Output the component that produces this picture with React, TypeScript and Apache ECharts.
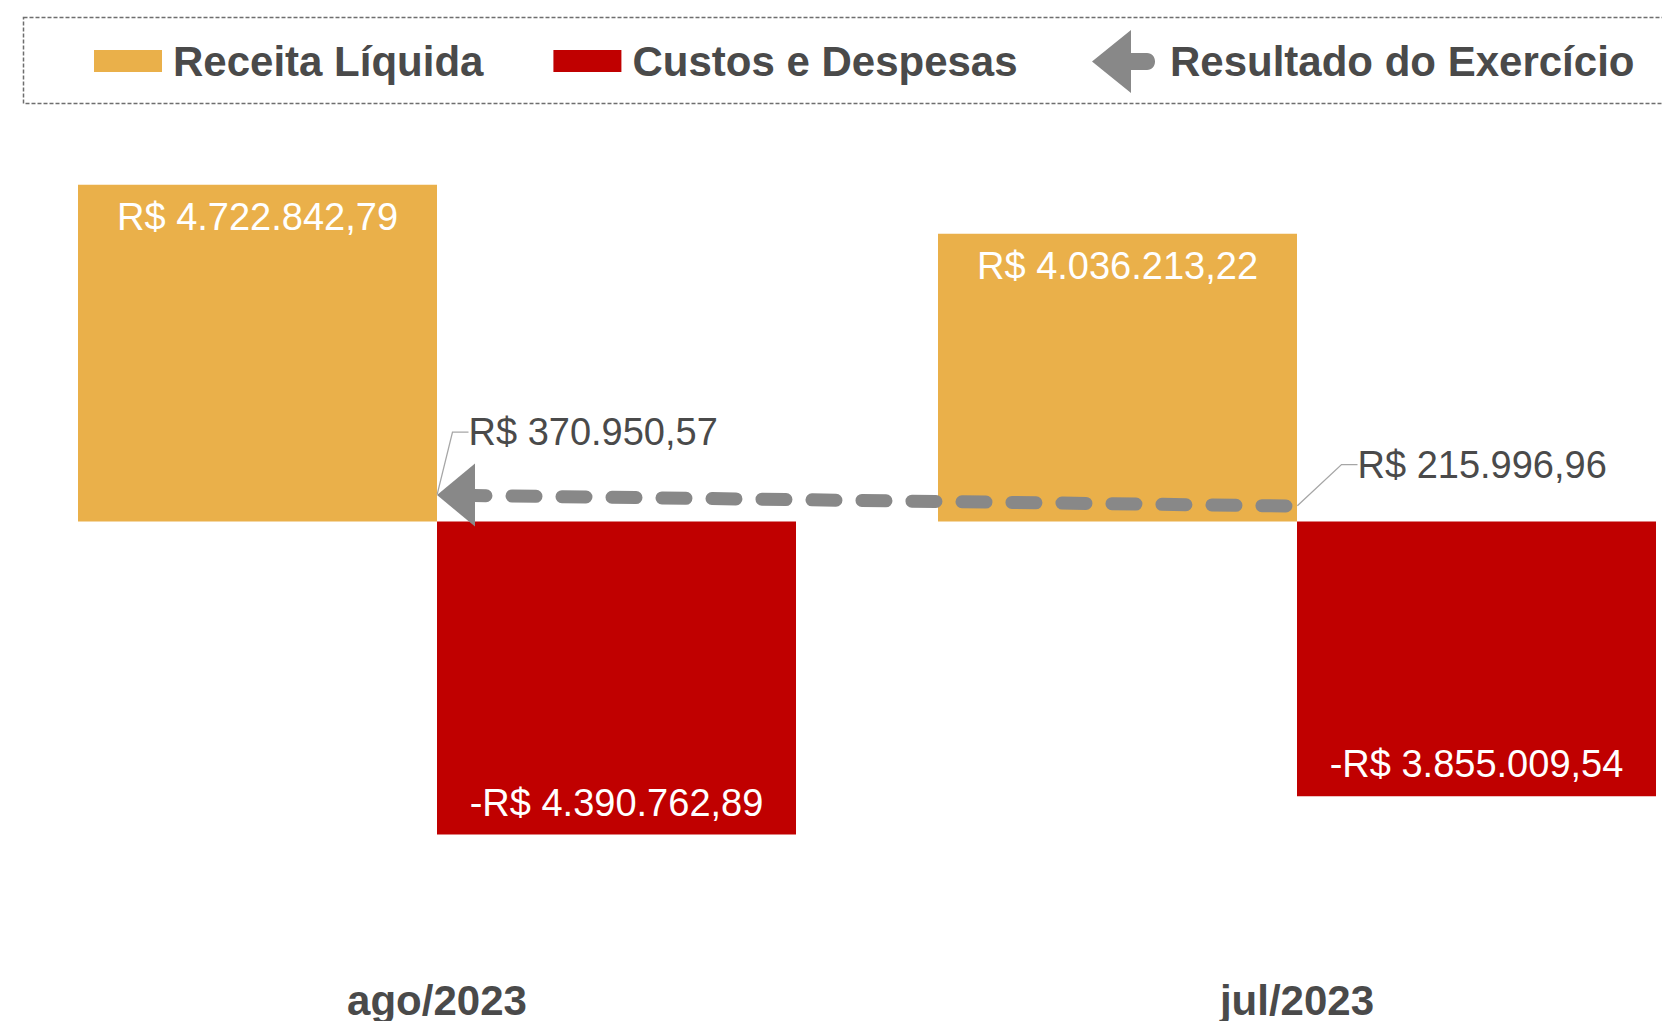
import React, { useEffect, useRef } from "react";
import * as echarts from "echarts";

const categories = ["ago/2023", "jul/2023"];
const receitaLiquida = [4722842.79, 4036213.22];
const custosDespesas = [-4390762.89, -3855009.54];
const resultadoExercicio = [370950.57, 215996.96];

const FONT = "'Liberation Sans', Arial, Helvetica, sans-serif";
const TEXT_COLOR = "#4a4a4a";
const ORANGE = "#EAB04A";
const RED = "#C00000";
const GRAY = "#888888";

const ARROW_SYMBOL = "path://M0,31.5 L38,0 L38,63 Z";
const ARROW_ICON =
  "path://M0,31.5 L39,0 L39,23 L55,23 C60,23 63,27 63,31.5 C63,36 60,40 55,40 L39,40 L39,63 Z";

function brl(v: number): string {
  const neg = v < 0;
  const [intPart, dec] = Math.abs(v).toFixed(2).split(".");
  const intF = intPart.replace(/\B(?=(\d{3})+(?!\d))/g, ".");
  return (neg ? "-" : "") + "R$ " + intF + "," + dec;
}

const labelOffsets = [
  { dx: 19, dy: -63 },
  { dx: 48, dy: -41.5 },
];

export default function App() {
  const ref = useRef<HTMLDivElement>(null);

  useEffect(() => {
    if (!ref.current) return;
    const chart = echarts.init(ref.current, undefined, { renderer: "svg" });
    const option: any = {
      animation: false,
      backgroundColor: "#ffffff",
      graphic: [
        {
          type: "rect",
          silent: true,
          z: -1,
          shape: { x: 23.5, y: 17.5, width: 1700, height: 86 },
          style: { fill: "none", stroke: "#6e6e6e", lineWidth: 1.5, lineDash: [4, 2] },
        },
      ],
      legend: [
        {
          data: ["Receita Líquida", "Custos e Despesas"],
          left: 89,
          top: 35,
          icon: "rect",
          itemWidth: 68,
          itemHeight: 22,
          itemGap: 70,
          selectedMode: false,
          textStyle: {
            fontFamily: FONT,
            fontSize: 42,
            fontWeight: "bold",
            color: TEXT_COLOR,
            padding: [0, 0, 0, 6],
          },
        },
        {
          data: [
            {
              name: "Resultado do Exercício",
              icon: ARROW_ICON,
              itemStyle: { color: GRAY, borderWidth: 0 },
            },
          ],
          left: 1087,
          top: 25,
          itemWidth: 63,
          itemHeight: 63,
          selectedMode: false,
          textStyle: {
            fontFamily: FONT,
            fontSize: 42,
            fontWeight: "bold",
            color: TEXT_COLOR,
            padding: [0, 0, 0, 10],
          },
        },
      ],
      grid: {
        left: 7,
        top: 165,
        width: 1720,
        height: 713,
        containLabel: false,
        outerBoundsMode: "none",
      },
      xAxis: {
        type: "category",
        data: categories,
        position: "bottom",
        axisLine: { show: false, onZero: false },
        axisTick: { show: false },
        splitLine: { show: false },
        axisLabel: {
          margin: 101,
          fontFamily: FONT,
          fontSize: 42,
          fontWeight: "bold",
          color: TEXT_COLOR,
        },
      },
      yAxis: {
        type: "value",
        min: -5000000,
        max: 5000000,
        show: false,
        splitLine: { show: false },
      },
      series: [
        {
          name: "Receita Líquida",
          type: "bar",
          data: receitaLiquida,
          barWidth: 359,
          barGap: "0%",
          itemStyle: { color: ORANGE },
          label: {
            show: true,
            position: "insideTop",
            distance: 13,
            formatter: (p: any) => brl(p.value),
            color: "#ffffff",
            fontFamily: FONT,
            fontSize: 38,
          },
        },
        {
          name: "Custos e Despesas",
          type: "bar",
          data: custosDespesas,
          barWidth: 359,
          barGap: "0%",
          itemStyle: { color: RED },
          label: {
            show: true,
            position: "insideBottom",
            distance: 13,
            formatter: (p: any) => brl(p.value),
            color: "#ffffff",
            fontFamily: FONT,
            fontSize: 38,
          },
        },
        {
          name: "Resultado do Exercício",
          type: "line",
          data: resultadoExercicio.map((v, i) =>
            i === 0
              ? { value: v, symbol: ARROW_SYMBOL, symbolSize: [38, 63], symbolOffset: [19, 0] }
              : { value: v, symbol: "none" }
          ),
          symbol: ARROW_SYMBOL,
          showSymbol: true,
          itemStyle: { color: GRAY, borderWidth: 0 },
          lineStyle: { color: GRAY, width: 13, type: [24, 26], dashOffset: 25, cap: "round" },
          z: 4,
        },
        {
          name: "Resultado do Exercício",
          type: "line",
          data: resultadoExercicio,
          symbol: "circle",
          symbolSize: 1,
          showSymbol: true,
          itemStyle: { color: "rgba(0,0,0,0)", borderWidth: 0 },
          lineStyle: { width: 0, opacity: 0 },
          label: {
            show: true,
            position: "right",
            distance: 5,
            padding: [0, 0, 0, 7],
            formatter: (p: any) => brl(p.value),
            color: TEXT_COLOR,
            fontFamily: FONT,
            fontSize: 38,
          },
          labelLine: {
            show: true,
            length2: 16,
            lineStyle: { color: "#a6a6a6", width: 1.3 },
          },
          labelLayout: (p: any) => labelOffsets[p.dataIndex] || {},
          z: 5,
        },
      ],
    };
    chart.setOption(option);
    return () => chart.dispose();
  }, []);

  return (
    <div
      ref={ref}
      style={{ position: "absolute", left: 0, top: 0, width: 1662, height: 1021, background: "#fff" }}
    />
  );
}
